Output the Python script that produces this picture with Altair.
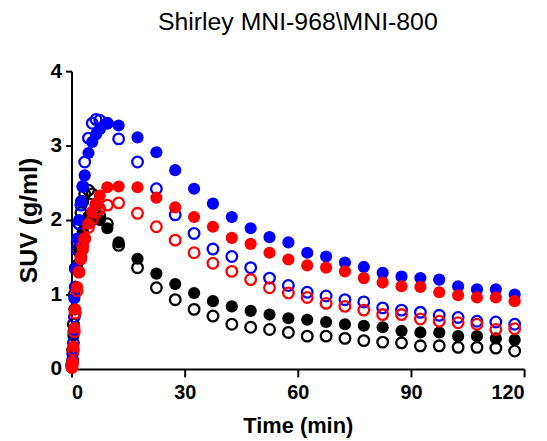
import altair as alt
import pandas as pd

times = [0.1, 0.3, 0.5, 0.75, 1.0, 1.5, 2.0, 2.5, 3.0, 3.5, 4.5, 5.5, 6.5, 7.5, 9.5,
         12.5, 17.5, 22.5, 27.5,
         32.5, 37.5, 42.5, 47.5, 52.5, 57.5, 62.5, 67.5, 72.5, 77.5, 82.5, 87.5,
         92.5, 97.5, 102.5, 107.5, 112.5, 117.5]

blue_filled = [0.05, 0.2, 0.5, 0.95, 1.35, 1.75, 2.0, 2.25, 2.45, 2.6, 2.9, 3.05, 3.15, 3.22, 3.3,
               3.27, 3.11, 2.91, 2.67,
               2.42, 2.22, 2.04, 1.89, 1.77, 1.70, 1.56, 1.51, 1.43, 1.37, 1.29, 1.24,
               1.22, 1.20, 1.11, 1.07, 1.07, 1.00]
blue_open = [0.03, 0.12, 0.35, 0.7, 1.1, 1.6, 1.95, 2.2, 2.45, 2.78, 3.1, 3.3, 3.35, 3.34, 3.3,
             3.09, 2.78, 2.42, 2.07,
             1.82, 1.61, 1.51, 1.36, 1.22, 1.12, 1.03, 0.98, 0.93, 0.90, 0.82, 0.79,
             0.76, 0.72, 0.69, 0.64, 0.63, 0.60]
red_filled = [0.03, 0.1, 0.3, 0.55, 0.8, 1.1, 1.3, 1.47, 1.6, 1.75, 1.95, 2.11, 2.22, 2.33, 2.44,
              2.45, 2.44, 2.30, 2.17,
              2.04, 1.91, 1.76, 1.68, 1.56, 1.47, 1.39, 1.36, 1.31, 1.22, 1.16, 1.11,
              1.10, 1.03, 0.99, 0.96, 0.96, 0.91]
red_open = [0.02, 0.08, 0.25, 0.5, 0.75, 1.05, 1.3, 1.5, 1.65, 1.75, 1.9, 2.0, 2.1, 2.15, 2.2,
            2.23, 2.09, 1.91, 1.73,
            1.56, 1.42, 1.31, 1.20, 1.09, 1.02, 0.96, 0.88, 0.84, 0.79, 0.73, 0.73,
            0.67, 0.64, 0.62, 0.60, 0.53, 0.54]
black_filled = [0.05, 0.2, 0.45, 0.8, 1.1, 1.4, 1.6, 1.75, 1.85, 1.95, 2.05, 2.1, 2.05, 2.0, 1.89,
                1.70, 1.48, 1.28, 1.14,
                1.02, 0.91, 0.84, 0.78, 0.73, 0.68, 0.66, 0.63, 0.60, 0.58, 0.56, 0.51,
                0.49, 0.49, 0.44, 0.44, 0.41, 0.39]
black_open = [0.06, 0.25, 0.6, 1.0, 1.35, 1.7, 1.95, 2.1, 2.25, 2.35, 2.4, 2.35, 2.2, 2.05, 1.95,
              1.66, 1.36, 1.09, 0.93,
              0.80, 0.71, 0.60, 0.56, 0.53, 0.49, 0.44, 0.44, 0.41, 0.38, 0.36, 0.35,
              0.31, 0.31, 0.29, 0.29, 0.28, 0.24]

series = [
    ("black_filled", black_filled, "#000000", True),
    ("black_open", black_open, "#000000", False),
    ("blue_filled", blue_filled, "#0000FF", True),
    ("blue_open", blue_open, "#0000FF", False),
    ("red_filled", red_filled, "#FF0000", True),
    ("red_open", red_open, "#FF0000", False),
]

FONT = "Liberation Sans"

x_scale = alt.Scale(domain=[0, 120], nice=False, zero=True)
y_scale = alt.Scale(domain=[0, 4], nice=False)

x_axis = alt.Axis(values=[0, 30, 60, 90, 120], title="Time (min)", grid=False,
                  domainColor="black", domainWidth=2, tickColor="black", tickWidth=2,
                  tickSize=8, labelFont=FONT, labelFontSize=20, labelFontWeight="bold",
                  labelColor="black", labelPadding=6, titleFont=FONT, titleFontSize=22,
                  titleFontWeight="bold", titleColor="black", titlePadding=13)
y_axis = alt.Axis(values=[0, 1, 2, 3, 4], title="SUV (g/ml)", grid=False,
                  domainColor="black", domainWidth=2, tickColor="black", tickWidth=2,
                  tickSize=6, labelFont=FONT, labelFontSize=21, labelFontWeight="bold",
                  labelColor="black", labelPadding=4, titleFont=FONT, titleFontSize=25,
                  titleFontWeight="bold", titleColor="black", titlePadding=9)

layers = []
for name, vals, color, filled in series:
    df = pd.DataFrame({"t": times, "suv": vals})
    enc = dict(
        x=alt.X("t:Q", scale=x_scale, axis=x_axis),
        y=alt.Y("suv:Q", scale=y_scale, axis=y_axis),
    )
    if filled:
        m = alt.Chart(df).mark_circle(size=150, color=color, opacity=1)
    else:
        m = alt.Chart(df).mark_point(shape="circle", size=115, filled=False,
                                     color=color, strokeWidth=2.3, opacity=1)
    layers.append(m.encode(**enc))

chart = alt.layer(*layers).properties(
    width=456, height=300,
    title=alt.TitleParams("Shirley MNI-968\\MNI-800", font=FONT, fontSize=25,
                          fontWeight="normal", color="black", anchor="middle", offset=25),
    autosize=alt.AutoSizeParams(type="none"),
    padding={"left": 64, "top": 62, "right": 15, "bottom": 70},
).configure(background="white", view=alt.ViewConfig(stroke=None))

chart.save("out.html", embed_options={"renderer": "svg", "actions": False})
